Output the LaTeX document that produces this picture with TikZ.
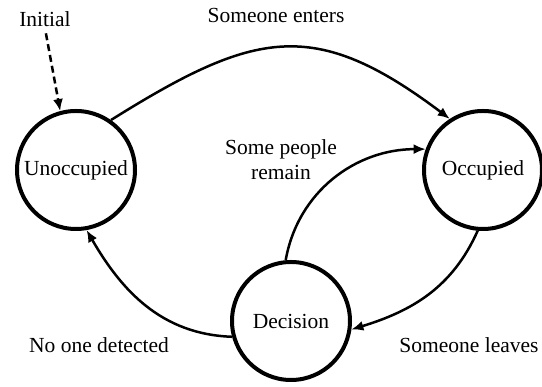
\documentclass[tikz,border=0pt]{standalone}
\usepackage{fontspec}
\setmainfont{Liberation Serif}
\usetikzlibrary{arrows.meta}
\begin{document}
\begin{tikzpicture}[x=1pt,y=1pt,
  state/.style={circle,draw,line width=4pt,minimum size=118pt,inner sep=0pt},
  lbl/.style={inner sep=1pt},
  conn/.style={line width=2.5pt,-{Latex[length=12pt,width=10pt]}},
  every node/.style={font=\fontsize{21.5}{25}\selectfont}]
\useasboundingbox (0,0) rectangle (542,387);
\node[state] (U) at (76,217) {Unoccupied};
\node[state] (O) at (483,217) {Occupied};
\node[state] (D) at (291,66) {Decision};
\node[lbl,anchor=base] (ini) at (45,360) {Initial};
\node[lbl,anchor=base] (l1) at (276,364) {Someone enters};
\node[lbl,align=center] (l2) at (281,227) {Some people\\remain};
\node[lbl,anchor=base] (l3) at (469,34) {Someone leaves};
\node[lbl,anchor=base] (l4) at (99,34) {No one detected};
\draw[conn,dash pattern=on 7pt off 4pt,shorten <=5pt] (ini.south) -- (U.105);
\draw[conn] (U.55) to[out=32,in=143,looseness=1.28] (O.123);
\draw[conn] (D.95) to[out=80,in=180] (O.160);
\draw[conn] (O.265) to[out=246,in=17] (D.-8);
\draw[conn] (D.195) to[out=178,in=-60] (U.280);
\end{tikzpicture}
\end{document}
